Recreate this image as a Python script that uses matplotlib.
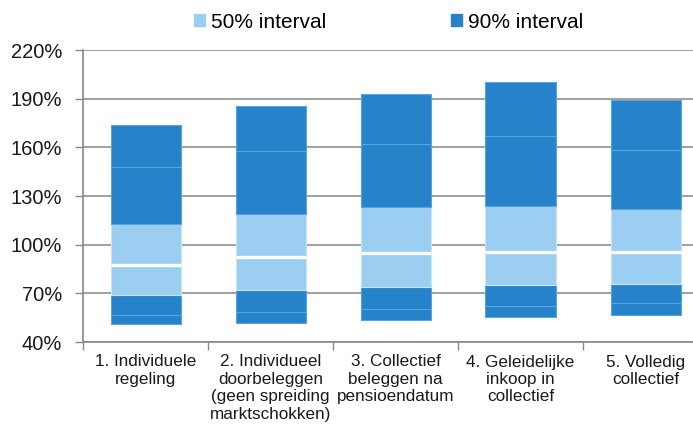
import numpy as np
import matplotlib.pyplot as plt
from matplotlib.patches import Patch

# category labels and percentiles (in %)
labels = ["1. Individuele\nregeling",
          "2. Individueel\ndoorbeleggen\n(geen spreiding\nmarktschokken)",
          "3. Collectief\nbeleggen na\npensioendatum",
          "4. Geleidelijke\ninkoop in\ncollectief",
          "5. Volledig\ncollectief"]
p5 = [50.9, 51.5, 53.6, 55.4, 56.6]
p10 = [56.5, 58.3, 60.1, 62.0, 63.9]
p25 = [68.8, 71.9, 73.9, 75.1, 75.9]
p50 = [87.3, 92.1, 95.1, 95.5, 95.4]
p75 = [112.6, 118.7, 123.2, 123.8, 121.8]
p90 = [147.7, 157.6, 161.9, 166.8, 158.2]
p95 = [173.8, 185.5, 192.7, 200.5, 189.4]
yticks = [40, 70, 100, 130, 160, 190, 220]

dark = '#2683c9'
light = '#9bcef1'

plt.rcParams['font.family'] = ['Liberation Sans', 'DejaVu Sans']

fig = plt.figure(figsize=(6.93, 4.24), dpi=100)
ax = fig.add_axes([83 / 693, 82 / 424, 625 / 693, 292 / 424])

x = np.arange(len(labels))
w = 0.56
levels = [p5, p10, p25, p50, p75, p90, p95]
colors = [dark, dark, light, light, dark, dark]
edges = ['#5aa3dd', '#5aa3dd', '#c8e5f8', '#c8e5f8', '#5aa3dd', '#5aa3dd']
for i in range(6):
    lo = np.array(levels[i])
    hi = np.array(levels[i + 1])
    ax.bar(x, hi - lo, bottom=lo, width=w, color=colors[i],
           edgecolor=edges[i], linewidth=0.8, zorder=3)

# median line
ax.hlines(p50, x - w / 2, x + w / 2, colors='white', linewidth=2.4, zorder=4)

ax.set_xlim(-0.5, len(labels) - 0.5)
ax.set_ylim(40, 220)
ax.set_yticks(yticks)
ax.set_yticklabels([f"{v}%" for v in yticks], fontsize=14.5, color='#1a1a1a')
ax.yaxis.grid(True, color='#999999', linewidth=1.3, zorder=0)
ax.tick_params(axis='y', length=6, width=1, color='#888888', pad=9)

ax.set_xticks(np.arange(len(labels) + 1) - 0.5)
ax.set_xticklabels([])
ax.set_xticks(x, minor=True)
ax.set_xticklabels(labels, minor=True, fontsize=12.3,
                   linespacing=1.2, color='#1a1a1a')
ax.tick_params(axis='x', which='major', length=6, width=1, color='#888888')
ax.tick_params(axis='x', which='minor', length=0, pad=9)

for s in ['top', 'right']:
    ax.spines[s].set_visible(False)
for s in ['left', 'bottom']:
    ax.spines[s].set_color('#888888')
    ax.spines[s].set_linewidth(1.2)

handles = [Patch(color=light, label='50% interval'),
           Patch(color=dark, label='90% interval')]
fig.legend(handles=handles, loc='center', bbox_to_anchor=(0.561, 0.948),
           ncol=2, frameon=False, fontsize=15, handlelength=0.5,
           handleheight=0.5, handletextpad=0.3, columnspacing=6.0)

fig.savefig('out.png', dpi=100)
